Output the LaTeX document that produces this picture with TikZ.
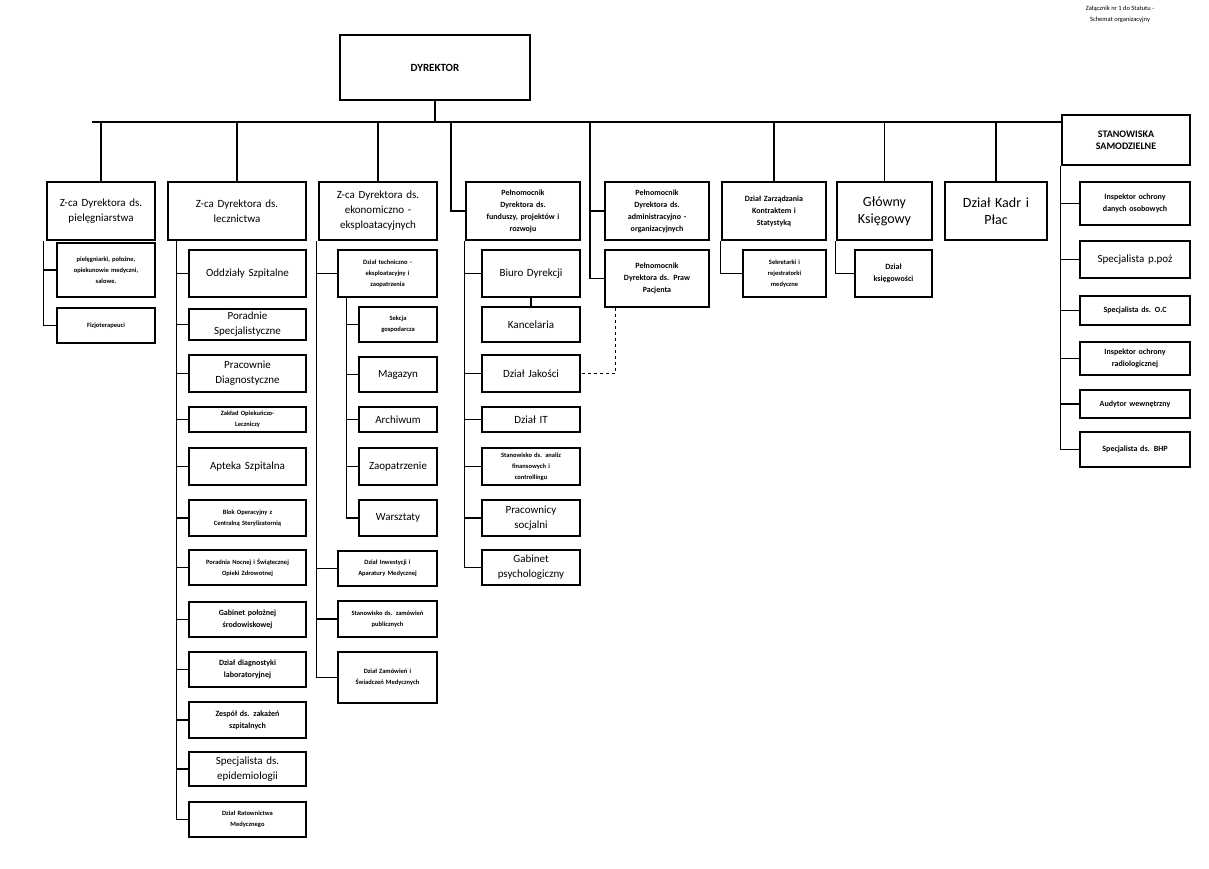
\documentclass[tikz,border=0pt]{standalone}
\usepackage{fontspec}
\setmainfont{Carlito}
\usetikzlibrary{positioning}

\tikzset{
    box/.style={draw, line width=2.4pt, align=center, inner sep=1pt},
    link/.style={line width=1.2pt},
    dlink/.style={line width=1.2pt, dashed},
    fbig/.style={font=\fontsize{14}{17}\selectfont},
    fmid/.style={font=\fontsize{11}{15}\selectfont},
    fsml/.style={font=\bfseries\fontsize{8}{12}\selectfont},
    ftny/.style={font=\bfseries\fontsize{6.5}{11}\selectfont}
}
% box from (x1,y1) to (x2,y2) in pixels
\newcommand\unitbox[7][fmid]{%
    \node[box, #1, minimum width={(#4-#2)*1pt}, minimum height={(#5-#3)*1pt},
        text width={(#4-#2-6)*1pt}] (#6) at ({(#2+#4)/2},{(#3+#5)/2}) {#7};}

\begin{document}
\begin{tikzpicture}[x=1pt, y=-1pt]
    \useasboundingbox (0,0) rectangle (1209,869);

    \node[font=\fontsize{6.5}{11}\selectfont, align=center] (note) at (1120,14)
        {Załącznik nr 1 do Statutu -\\Schemat organizacyjny};

    % top level
    \unitbox[fsml]{340}{35}{530}{100}{dyr}{\fontsize{11}{13}\selectfont DYREKTOR}
    \unitbox[fsml]{1062}{115}{1190}{165}{stan}{\fontsize{10}{15}\selectfont STANOWISKA\\SAMODZIELNE}

    \coordinate (bus) at (0,122);
    \draw[link] (dyr.south) -- (dyr.south |- bus);
    \draw[link] (92,122) -- (stan.west |- bus);

    % second level
    \unitbox{47}{182}{155}{240}{pie}{Z-ca Dyrektora ds.\\pielęgniarstwa}
    \unitbox{168}{182}{306}{240}{lec}{Z-ca Dyrektora ds.\\lecznictwa}
    \unitbox{319}{182}{437}{240}{eko}{Z-ca Dyrektora ds.\\ekonomiczno -\\eksploatacyjnych}
    \unitbox[fsml]{466}{182}{580}{240}{fun}{Pełnomocnik\\Dyrektora ds.\\funduszy, projektów i\\rozwoju}
    \unitbox[fsml]{605}{182}{709}{240}{adm}{Pełnomocnik\\Dyrektora ds.\\administracyjno -\\organizacyjnych}
    \unitbox[fsml]{605}{250}{709}{307}{praw}{Pełnomocnik\\Dyrektora ds. Praw\\Pacjenta}
    \unitbox[fsml]{722}{182}{826}{240}{kon}{Dział Zarządzania\\Kontraktem i\\Statystyką}
    \unitbox[fbig]{837}{182}{932}{240}{ksi}{Główny\\Księgowy}
    \unitbox[fbig]{945}{182}{1047}{240}{kad}{Dział Kadr i\\Płac}

    \foreach \n in {pie, lec, eko, kon, ksi, kad}
        \draw[link] (\n.north) -- (\n.north |- bus);
    \draw[link] (451,122) |- (fun.west);
    \draw[link] (590,122) |- (adm.west);
    \draw[link] (590,122) |- (praw.west);

    % pielegniarstwo
    \unitbox[ftny]{57}{243}{155}{297}{pie1}{pielęgniarki, położne,\\opiekunowie medyczni,\\salowe.}
    \unitbox[ftny]{57}{308}{155}{343}{pie2}{Fizjoterapeuci}
    \foreach \c in {pie1, pie2}
        \draw[link] ([xshift=-2pt]pie.south west) |- (\c.west);

    % lecznictwo
    \unitbox{189}{250}{306}{297}{lec1}{Oddziały Szpitalne}
    \unitbox{189}{309}{306}{340}{lec2}{Poradnie\\Specjalistyczne}
    \unitbox{189}{355}{306}{392}{lec3}{Pracownie\\Diagnostyczne}
    \unitbox[ftny]{189}{407}{306}{432}{lec4}{Zakład Opiekuńczo-\\Leczniczy}
    \unitbox{189}{448}{306}{485}{lec5}{Apteka Szpitalna}
    \unitbox[ftny]{189}{500}{306}{536}{lec6}{Blok Operacyjny z\\Centralną Sterylizatornią}
    \unitbox[ftny]{189}{550}{306}{585}{lec7}{Poradnia Nocnej i Świątecznej\\Opieki Zdrowotnej}
    \unitbox[fsml]{189}{602}{306}{637}{lec8}{Gabinet położnej\\środowiskowej}
    \unitbox[fsml]{189}{652}{306}{687}{lec9}{Dział diagnostyki\\laboratoryjnej}
    \unitbox[fsml]{189}{702}{306}{738}{lec10}{Zespół ds. zakażeń\\szpitalnych}
    \unitbox{189}{752}{306}{786}{lec11}{Specjalista ds.\\epidemiologii}
    \unitbox[ftny]{189}{802}{306}{837}{lec12}{Dział Ratownictwa\\Medycznego}
    \foreach \i in {1,...,12}
        \draw[link] ([xshift=10pt]lec.south west) |- (lec\i.west);

    % ekonomia
    \unitbox[ftny]{338}{250}{437}{297}{eko1}{Dział techniczno -\\eksploatacyjny i\\zaopatrzenia}
    \unitbox[ftny]{359}{307}{437}{342}{tec1}{Sekcja\\gospodarcza}
    \unitbox{359}{357}{437}{392}{tec2}{Magazyn}
    \unitbox{359}{407}{437}{432}{tec3}{Archiwum}
    \unitbox{359}{448}{437}{485}{tec4}{Zaopatrzenie}
    \unitbox{359}{500}{437}{536}{tec5}{Warsztaty}
    \unitbox[ftny]{338}{551}{437}{586}{eko2}{Dział Inwestycji i\\Aparatury Medycznej}
    \unitbox[ftny]{338}{601}{437}{637}{eko3}{Stanowisko ds. zamówień\\publicznych}
    \unitbox[ftny]{338}{652}{437}{703}{eko4}{Dział Zamówień i\\Świadczeń Medycznych}
    \foreach \c in {eko1, eko2, eko3, eko4}
        \draw[link] ([xshift=-1pt]eko.south west) |- (\c.west);
    \foreach \i in {1,...,5}
        \draw[link] ([xshift=10pt]eko1.south west) |- (tec\i.west);

    % fundusze
    \unitbox{482}{250}{580}{297}{fun1}{Biuro Dyrekcji}
    \unitbox{482}{307}{580}{342}{kanc}{Kancelaria}
    \unitbox{482}{355}{580}{392}{fun2}{Dział Jakości}
    \unitbox{482}{407}{580}{432}{fun3}{Dział IT}
    \unitbox[ftny]{482}{448}{580}{485}{fun4}{Stanowisko ds. analiz\\finansowych i\\controllingu}
    \unitbox{482}{500}{580}{536}{fun5}{Pracownicy\\socjalni}
    \unitbox{482}{550}{580}{585}{fun6}{Gabinet\\psychologiczny}
    \foreach \i in {1,...,6}
        \draw[link] (fun.south west) |- (fun\i.west);
    \draw[link] (fun1) -- (kanc);
    \draw[dlink] ([xshift=12pt]praw.south west) |- (fun2.east);

    % kontrakty, ksiegowosc
    \unitbox[ftny]{743}{250}{826}{297}{kon1}{Sekretarki i\\rejestratorki\\medyczne}
    \draw[link] (kon.south west) |- (kon1.west);
    \unitbox[fsml]{855}{250}{932}{297}{ksi1}{Dział\\księgowości}
    \draw[link] (ksi.south west) |- (ksi1.west);

    % stanowiska samodzielne
    \unitbox[fsml]{1080}{182}{1190}{225}{sta1}{Inspektor ochrony\\danych osobowych}
    \unitbox[fmid]{1080}{241}{1190}{278}{sta2}{Specjalista p.poż}
    \unitbox[fsml]{1080}{296}{1190}{325}{sta3}{Specjalista ds. O.C}
    \unitbox[fsml]{1080}{342}{1190}{375}{sta4}{Inspektor ochrony\\radiologicznej}
    \unitbox[fsml]{1080}{390}{1190}{418}{sta5}{Audytor wewnętrzny}
    \unitbox[fsml]{1080}{432}{1190}{467}{sta6}{Specjalista ds. BHP}
    \foreach \i in {1,...,6}
        \draw[link] (stan.south west) |- (sta\i.west);
\end{tikzpicture}
\end{document}
